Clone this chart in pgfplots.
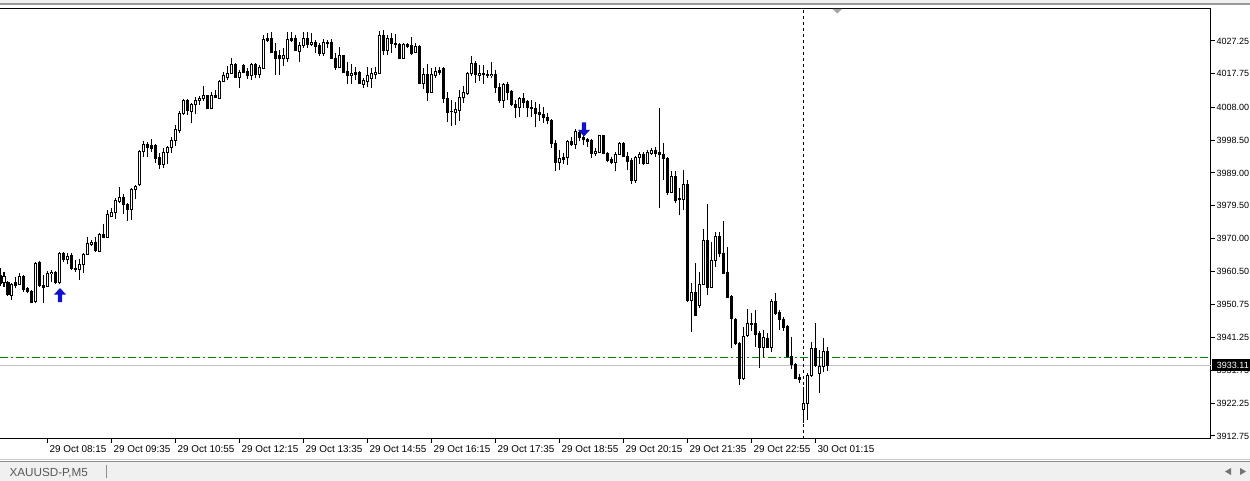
\documentclass[border=0pt]{standalone}
\usepackage{fontspec}
\setmainfont{Liberation Sans}
\usepackage{pgfplots}
\usepackage{pgfplotstable}
\pgfplotsset{compat=1.18}
\definecolor{arrowblue}{RGB}{16,16,205}
\definecolor{tradegreen}{RGB}{0,128,0}
\definecolor{bidgray}{RGB}{192,192,192}
\definecolor{tabgray}{RGB}{240,240,240}

\pgfdeclareplotmark{mtup}{%
  \pgfpathmoveto{\pgfqpoint{0pt}{7pt}}%
  \pgfpathlineto{\pgfqpoint{6pt}{0.5pt}}%
  \pgfpathlineto{\pgfqpoint{2.2pt}{0.5pt}}%
  \pgfpathlineto{\pgfqpoint{2.2pt}{-7pt}}%
  \pgfpathlineto{\pgfqpoint{-2.2pt}{-7pt}}%
  \pgfpathlineto{\pgfqpoint{-2.2pt}{0.5pt}}%
  \pgfpathlineto{\pgfqpoint{-6pt}{0.5pt}}%
  \pgfpathclose\pgfusepathqfill}
\pgfdeclareplotmark{mtdown}{%
  \pgfpathmoveto{\pgfqpoint{0pt}{-7pt}}%
  \pgfpathlineto{\pgfqpoint{6pt}{-0.5pt}}%
  \pgfpathlineto{\pgfqpoint{2.2pt}{-0.5pt}}%
  \pgfpathlineto{\pgfqpoint{2.2pt}{7pt}}%
  \pgfpathlineto{\pgfqpoint{-2.2pt}{7pt}}%
  \pgfpathlineto{\pgfqpoint{-2.2pt}{-0.5pt}}%
  \pgfpathlineto{\pgfqpoint{-6pt}{-0.5pt}}%
  \pgfpathclose\pgfusepathqfill}

\pgfplotstableread{
i o h l c
-12 3959.4 3961.4 3956.2 3957.0
-11 3957.3 3960.2 3955.9 3959.1
-10 3957.3 3957.6 3953.3 3953.8
-9 3953.6 3957.0 3952.1 3956.7
-8 3957.3 3958.8 3955.6 3956.5
-7 3956.7 3959.9 3956.5 3959.1
-6 3959.1 3959.4 3954.4 3955.3
-5 3955.6 3955.9 3954.1 3954.7
-4 3954.7 3955.0 3951.2 3951.5
-3 3951.8 3963.1 3951.2 3962.8
-2 3963.1 3963.4 3955.9 3956.5
-1 3956.5 3959.4 3951.2 3955.9
0 3956.2 3960.5 3955.9 3959.9
1 3959.9 3960.8 3957.3 3960.2
2 3960.2 3960.5 3956.7 3957.3
3 3957.3 3966.0 3956.7 3965.7
4 3965.7 3966.0 3963.1 3964.0
5 3964.0 3965.7 3962.5 3964.9
6 3965.2 3965.7 3960.8 3961.4
7 3961.4 3963.7 3960.2 3961.1
8 3961.1 3964.0 3957.9 3962.5
9 3962.5 3965.7 3959.9 3965.4
10 3965.4 3970.4 3965.2 3968.6
11 3968.3 3969.5 3967.8 3968.9
12 3968.9 3970.4 3966.0 3966.6
13 3966.3 3971.5 3966.0 3971.2
14 3971.2 3974.1 3970.1 3970.4
15 3970.4 3978.2 3970.1 3976.8
16 3976.5 3978.8 3976.2 3977.6
17 3977.6 3981.7 3975.6 3981.1
18 3980.8 3984.9 3980.2 3982.0
19 3982.0 3982.8 3977.0 3979.9
20 3979.9 3980.2 3975.0 3978.5
21 3978.5 3984.6 3975.3 3984.3
22 3984.3 3985.5 3981.4 3985.2
23 3985.5 3995.6 3985.2 3995.3
24 3995.3 3998.2 3993.6 3997.1
25 3997.1 3997.9 3993.6 3996.5
26 3996.8 3998.8 3995.0 3996.2
27 3996.8 3997.3 3991.8 3993.3
28 3993.6 3994.7 3990.1 3991.5
29 3991.5 3996.2 3990.4 3995.0
30 3995.0 3996.8 3991.5 3996.5
31 3996.5 3999.4 3994.7 3998.5
32 3998.5 4002.9 3996.8 4001.7
33 4001.4 4006.9 4000.5 4006.3
34 4006.3 4010.4 4005.8 4010.1
35 4010.1 4010.4 4005.8 4007.2
36 4006.9 4009.2 4003.4 4008.9
37 4008.7 4011.0 4006.0 4010.1
38 4010.1 4011.3 4008.7 4010.7
39 4010.7 4014.2 4009.8 4011.3
40 4011.3 4011.6 4007.5 4007.8
41 4007.8 4012.4 4007.5 4011.3
42 4011.3 4013.0 4010.7 4011.0
43 4010.7 4015.9 4010.4 4015.6
44 4015.6 4018.2 4015.3 4017.1
45 4016.8 4020.0 4015.9 4017.9
46 4017.9 4022.3 4017.6 4020.3
47 4020.3 4020.8 4016.5 4016.8
48 4016.8 4018.8 4013.6 4018.2
49 4020.0 4020.5 4017.9 4018.2
50 4018.5 4019.4 4016.2 4017.1
51 4017.1 4020.8 4015.9 4020.3
52 4020.3 4020.8 4016.5 4017.4
53 4017.4 4020.3 4016.5 4019.7
54 4019.4 4029.0 4019.1 4027.8
55 4028.1 4029.5 4026.9 4027.5
56 4028.1 4029.8 4023.7 4024.0
57 4024.3 4026.6 4017.4 4022.3
58 4022.9 4024.6 4017.4 4022.3
59 4022.3 4025.2 4020.0 4022.9
60 4022.3 4029.8 4021.1 4027.8
61 4028.1 4029.8 4026.9 4027.5
62 4028.1 4029.0 4024.3 4024.6
63 4024.3 4026.9 4021.1 4025.8
64 4025.8 4029.8 4025.2 4028.1
65 4028.1 4029.8 4025.2 4026.3
66 4026.3 4029.5 4025.8 4026.9
67 4026.9 4027.5 4023.7 4025.5
68 4025.8 4026.6 4022.9 4023.7
69 4023.7 4027.8 4022.9 4026.9
70 4026.9 4027.5 4025.2 4026.6
71 4026.9 4027.8 4022.0 4022.3
72 4022.3 4023.7 4018.8 4019.7
73 4019.7 4025.5 4019.4 4022.9
74 4022.9 4023.2 4017.9 4018.2
75 4018.5 4021.1 4014.7 4017.1
76 4017.1 4020.5 4014.7 4017.9
77 4018.2 4019.7 4015.9 4017.6
78 4018.2 4018.5 4014.7 4015.0
79 4014.7 4016.5 4013.6 4015.9
80 4015.6 4019.7 4013.9 4017.1
81 4016.5 4019.4 4013.6 4017.9
82 4017.4 4019.7 4016.2 4018.2
83 4017.9 4030.1 4017.6 4028.7
84 4028.7 4030.4 4023.2 4024.6
85 4024.6 4029.0 4023.2 4028.1
86 4028.1 4029.5 4023.7 4026.6
87 4026.6 4029.2 4025.2 4026.3
88 4026.3 4026.6 4022.0 4022.3
89 4022.3 4026.6 4022.0 4026.3
90 4026.3 4026.6 4025.2 4025.5
91 4025.8 4028.4 4023.2 4023.7
92 4024.0 4026.6 4023.7 4025.5
93 4025.5 4026.1 4014.7 4015.0
94 4015.0 4019.4 4013.3 4017.4
95 4017.4 4020.5 4009.8 4012.4
96 4012.4 4019.4 4012.1 4017.4
97 4017.1 4019.7 4016.5 4018.5
98 4018.8 4019.7 4017.4 4018.2
99 4019.4 4019.7 4009.2 4010.7
100 4010.7 4012.4 4003.7 4006.6
101 4006.9 4010.1 4002.6 4006.8
102 4006.6 4009.5 4002.9 4007.5
103 4007.2 4013.0 4004.0 4011.0
104 4011.0 4014.2 4009.2 4012.4
105 4012.1 4018.2 4011.6 4017.9
106 4017.9 4022.9 4017.1 4020.8
107 4020.8 4021.4 4015.0 4017.4
108 4017.1 4020.3 4015.6 4017.9
109 4017.9 4020.3 4014.7 4017.4
110 4017.6 4018.8 4016.5 4017.1
111 4017.1 4021.1 4016.5 4017.6
112 4017.4 4018.8 4012.1 4013.9
113 4013.9 4015.0 4009.2 4010.1
114 4010.1 4015.0 4007.8 4014.7
115 4014.7 4015.3 4010.1 4012.4
116 4012.7 4013.0 4008.4 4008.7
117 4008.7 4010.1 4004.9 4008.1
118 4008.1 4011.0 4005.2 4010.7
119 4010.7 4012.1 4007.8 4009.5
120 4009.8 4010.1 4005.2 4008.1
121 4008.1 4010.1 4005.2 4007.8
122 4007.8 4009.5 4002.3 4006.3
123 4006.6 4008.9 4004.0 4006.0
124 4006.0 4008.1 4003.4 4005.2
125 4005.2 4006.3 4003.1 4004.3
126 4004.3 4004.6 3996.2 3997.6
127 3997.6 3998.5 3989.5 3992.1
128 3992.1 3995.6 3989.8 3993.3
129 3993.6 3994.7 3991.5 3993.0
130 3993.6 3998.5 3991.3 3998.2
131 3998.2 3999.4 3996.8 3997.1
132 3997.1 4001.7 3995.9 4001.1
133 4000.8 4001.4 3998.2 3999.4
134 3999.4 4000.0 3997.1 3998.8
135 3998.8 3999.1 3996.5 3998.2
136 3998.5 3998.8 3993.3 3994.7
137 3994.7 3996.2 3993.9 3995.3
138 3995.0 4000.0 3994.7 3999.7
139 3999.7 4000.0 3994.4 3994.7
140 3994.7 3995.0 3992.1 3992.7
141 3993.0 3993.6 3991.5 3992.1
142 3992.1 3995.0 3989.5 3994.4
143 3994.4 3997.9 3994.2 3997.6
144 3997.6 3997.9 3993.6 3993.9
145 3993.9 3995.0 3989.8 3992.4
146 3992.7 3993.3 3985.7 3986.9
147 3986.9 3993.9 3986.0 3993.6
148 3993.6 3995.0 3991.5 3994.4
149 3994.4 3995.0 3991.3 3991.8
150 3991.8 3995.6 3991.5 3995.0
151 3994.7 3996.2 3994.2 3995.6
152 3995.6 3996.5 3993.6 3994.7
153 3995.0 4007.8 3978.8 3994.2
154 3994.2 3997.6 3986.9 3993.3
155 3993.3 3993.6 3982.6 3983.4
156 3983.4 3989.5 3983.1 3988.1
157 3988.1 3989.5 3980.2 3981.1
158 3981.7 3984.6 3976.8 3981.4
159 3981.4 3989.8 3978.2 3985.5
160 3985.5 3986.9 3951.5 3952.1
161 3952.1 3957.0 3942.8 3954.4
162 3954.4 3962.8 3947.5 3947.8
163 3950.7 3960.2 3949.8 3956.7
164 3956.7 3972.7 3956.5 3969.5
165 3969.5 3979.9 3953.6 3955.9
166 3955.9 3968.9 3955.6 3963.7
167 3963.7 3971.8 3961.7 3970.7
168 3970.7 3971.8 3964.6 3965.7
169 3965.7 3975.0 3959.6 3959.9
170 3960.2 3967.5 3952.7 3953.0
171 3953.3 3953.6 3938.2 3946.9
172 3946.6 3946.9 3939.1 3939.6
173 3939.6 3939.9 3927.5 3929.5
174 3929.5 3944.3 3928.9 3941.7
175 3942.0 3949.5 3941.4 3945.4
176 3945.4 3948.3 3943.1 3945.1
177 3945.4 3949.2 3938.5 3942.2
178 3942.5 3943.1 3932.4 3938.5
179 3938.5 3943.4 3935.6 3941.4
180 3941.1 3942.5 3938.2 3938.5
181 3938.5 3952.4 3937.0 3951.8
182 3951.8 3954.1 3947.8 3948.3
183 3948.6 3949.2 3943.4 3946.6
184 3946.6 3947.2 3943.1 3944.3
185 3944.6 3944.9 3935.6 3935.9
186 3935.9 3941.4 3932.1 3933.5
187 3933.5 3933.8 3929.2 3929.5
188 3929.8 3930.6 3928.0 3929.2
189 3920.5 3926.9 3916.4 3922.2
190 3922.2 3930.9 3917.3 3930.4
191 3930.4 3939.9 3929.8 3938.2
192 3938.2 3945.4 3932.7 3933.3
193 3930.9 3937.6 3925.1 3933.0
194 3933.0 3941.1 3931.2 3937.3
195 3937.3 3938.5 3931.5 3933.11
}\candles

\begin{document}
\begin{tikzpicture}
% page background and window chrome
\fill[white] (0pt,0pt) rectangle (1250pt,481pt);
\fill[tabgray] (0pt,477.5pt) rectangle (1250pt,481pt);
\fill[black!40] (0pt,475.5pt) rectangle (1250pt,477.5pt);
\fill[tabgray] (0pt,0pt) rectangle (1250pt,19.5pt);
\draw[black!45, line width=1pt] (0pt,19.5pt) -- (1250pt,19.5pt);
\draw[black!20, line width=1pt] (0pt,21.5pt) -- (1250pt,21.5pt);
\node[anchor=base west, inner sep=0pt, text=black!65, font=\fontsize{11.7}{13}\selectfont] at (9.3pt,4.3pt) {XAUUSD-P,M5};
\draw[black!45, line width=1pt] (106.5pt,3pt) -- (106.5pt,15.5pt);
\fill[black!55] (1225pt,9.5pt) -- (1231pt,13pt) -- (1231pt,6pt) -- cycle;
\fill[black!55] (1246pt,9.5pt) -- (1240pt,13pt) -- (1240pt,6pt) -- cycle;

\begin{axis}[
  at={(0pt,42.3pt)}, anchor=south west,
  scale only axis, width=1211pt, height=430.4pt,
  xmin=-12, xmax=290.75, ymin=3911.95, ymax=4036.72,
  axis x line*=bottom, axis y line*=right,
  axis line style={black, line width=1pt},
  tick align=outside, major tick length=4pt,
  tick style={black, line width=1pt},
  scaled y ticks=false,
  xtick={0,16,...,192},
  xticklabels={29 Oct 08:15, 29 Oct 09:35, 29 Oct 10:55, 29 Oct 12:15, 29 Oct 13:35, 29 Oct 14:55, 29 Oct 16:15, 29 Oct 17:35, 29 Oct 18:55, 29 Oct 20:15, 29 Oct 21:35, 29 Oct 22:55, 30 Oct 01:15},
  xticklabel style={font=\fontsize{9.9}{11}\selectfont, anchor=north west, inner xsep=1.5pt, inner ysep=2.5pt},
  ytick={3912.75,3922.25,3931.75,3941.25,3950.75,3960.50,3970.00,3979.50,3989.00,3998.50,4008.00,4017.75,4027.25},
  yticklabel style={font=\fontsize{9}{10}\selectfont, inner xsep=1.5pt,
    /pgf/number format/.cd, fixed, fixed zerofill, precision=2, 1000 sep={}, assume math mode=true},
]
% horizontal levels and day separator
\addplot[bidgray, line width=1pt] coordinates {(-12,3933.11) (290.75,3933.11)};
\addplot[tradegreen, line width=1pt, dash pattern=on 8pt off 3pt on 2pt off 3pt] coordinates {(-12,3935.55) (290.75,3935.55)};
\addplot[black, line width=1pt, dash pattern=on 3pt off 3pt] coordinates {(189,3911.95) (189,4036.72)};
% wicks
\addplot[draw=none, mark=none, error bars/.cd, y dir=plus, y explicit, error mark=none,
  error bar style={draw=black, solid, line width=1pt}]
  table[x=i, y=l, y error expr=\thisrow{h}-\thisrow{l}] {\candles};
% bodies (outline / filled)
\addplot[draw=none, mark=none, error bars/.cd, y dir=plus, y explicit, error mark=none,
  error bar style={draw=black, solid, line width=3pt}]
  table[x=i, y expr={min(\thisrow{o},\thisrow{c})-0.145}, y error expr={abs(\thisrow{c}-\thisrow{o})+0.29}] {\candles};
% hollow interior of rising candles
\addplot[draw=none, mark=none, error bars/.cd, y dir=plus, y explicit, error mark=none,
  error bar style={draw=white, solid, line width=1pt}]
  table[x=i, y expr={\thisrow{o}+0.145}, y error expr={max(\thisrow{c}-\thisrow{o}-0.29,0)}] {\candles};
% signal arrows
\addplot[only marks, mark=mtup, mark options={fill=arrowblue, draw=none}] coordinates {(3,3953.6)};
\addplot[only marks, mark=mtdown, mark options={fill=arrowblue, draw=none}] coordinates {(134,4001.6)};
% top frame line
\draw[black, line width=1pt] (rel axis cs:0,1) -- (rel axis cs:1,1);
\node[anchor=north west, inner xsep=1.5pt, inner ysep=2.5pt, yshift=-4pt, font=\fontsize{9.9}{11}\selectfont] at (axis cs:-16,3911.95) {29 Oct 06:55};
\end{axis}
% chart shift marker
\fill[black!35] (832.5pt,472pt) -- (842pt,472pt) -- (837.2pt,467.5pt) -- cycle;
% current price label
\fill[black] (1212pt,110pt) rectangle (1250pt,121.5pt);
\node[anchor=west, inner sep=0pt, text=white, font=\fontsize{9}{10}\selectfont] at (1216.7pt,115.5pt) {3933.11};
\pgfresetboundingbox
\path[use as bounding box] (0pt,0pt) rectangle (1250pt,481pt);
\end{tikzpicture}
\end{document}
